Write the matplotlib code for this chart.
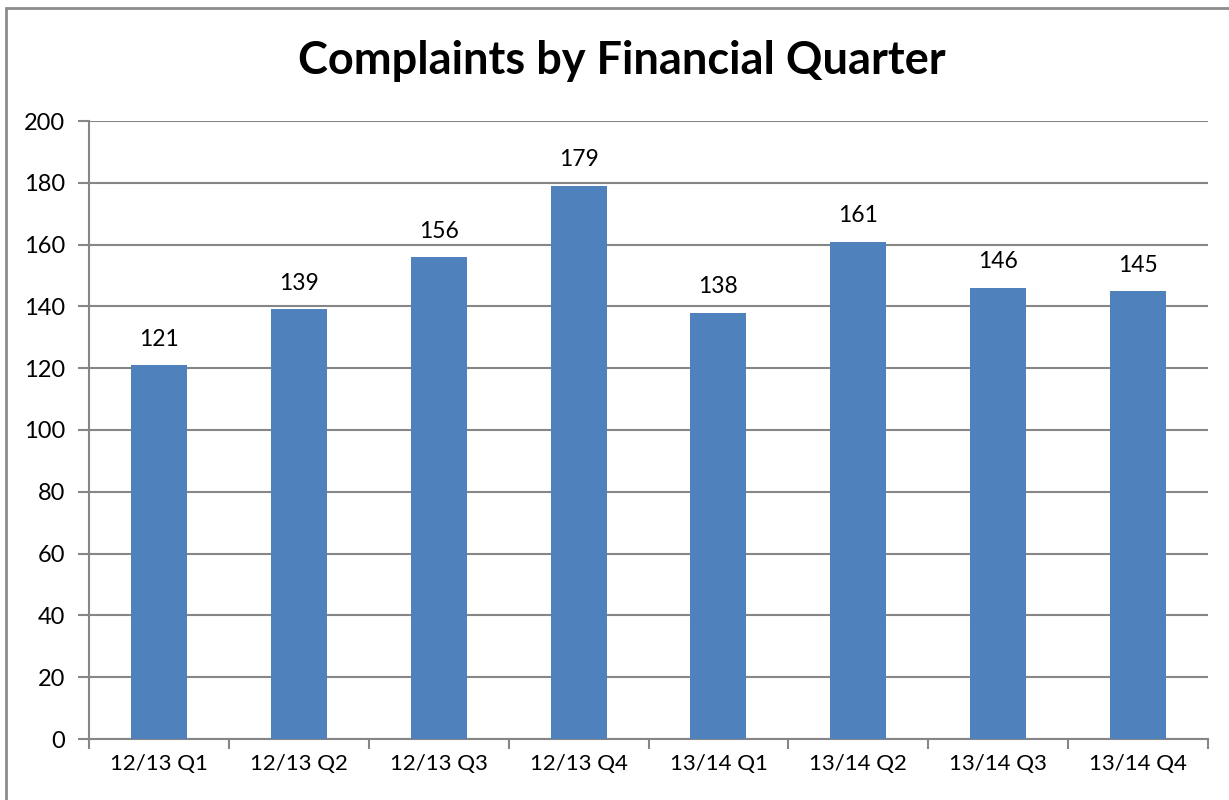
import matplotlib.pyplot as plt
from matplotlib.patches import Rectangle

quarters = ['12/13 Q1', '12/13 Q2', '12/13 Q3', '12/13 Q4',
            '13/14 Q1', '13/14 Q2', '13/14 Q3', '13/14 Q4']
complaints = [121, 139, 156, 179, 138, 161, 146, 145]

plt.rcParams['font.family'] = ['Lato', 'DejaVu Sans']

W, H = 1229, 800
fig = plt.figure(figsize=(W / 100, H / 100), dpi=100)
ax = fig.add_axes([89 / W, 1 - 739 / H, (1208 - 89) / W, (739 - 121) / H])

# outer chart border (right and bottom are cut off in the original)
fig.patches.append(Rectangle((6 / W, -0.1), 1.2, 1 - 8 / H + 0.1,
                             transform=fig.transFigure, fill=False,
                             edgecolor='#8c8c8c', linewidth=2))

x = range(len(quarters))
ax.bar(x, complaints, width=0.4, color='#4F81BD', zorder=3)
for i, v in enumerate(complaints):
    ax.text(i, v + 5, str(v), ha='center', va='bottom', fontsize=16.5)

ax.set_xlim(-0.5, len(quarters) - 0.5)
ax.set_ylim(0, 200)
ax.set_yticks(range(0, 201, 20))
ax.set_xticks([i - 0.5 for i in range(len(quarters) + 1)], minor=False)
ax.set_xticklabels([''] * (len(quarters) + 1))
ax.set_xticks(list(x), minor=True)
ax.set_xticklabels(quarters, minor=True)
ax.tick_params(axis='x', which='minor', length=0, pad=11, labelsize=16)
ax.tick_params(axis='x', which='major', length=7, color='#868686', width=1.5)
ax.tick_params(axis='y', length=8, color='#868686', width=1.5, labelsize=17, pad=9)

ax.yaxis.grid(True, color='#868686', linewidth=1.5, zorder=0)
for s in ['top', 'right']:
    ax.spines[s].set_visible(False)
for s in ['left', 'bottom']:
    ax.spines[s].set_color('#868686')
    ax.spines[s].set_linewidth(1.5)

fig.text((302 + 941) / 2 / W, 1 - 61 / H, 'Complaints by Financial Quarter',
         ha='center', va='center', fontsize=32.5, fontweight='bold')

fig.savefig('out.png', dpi=100)
